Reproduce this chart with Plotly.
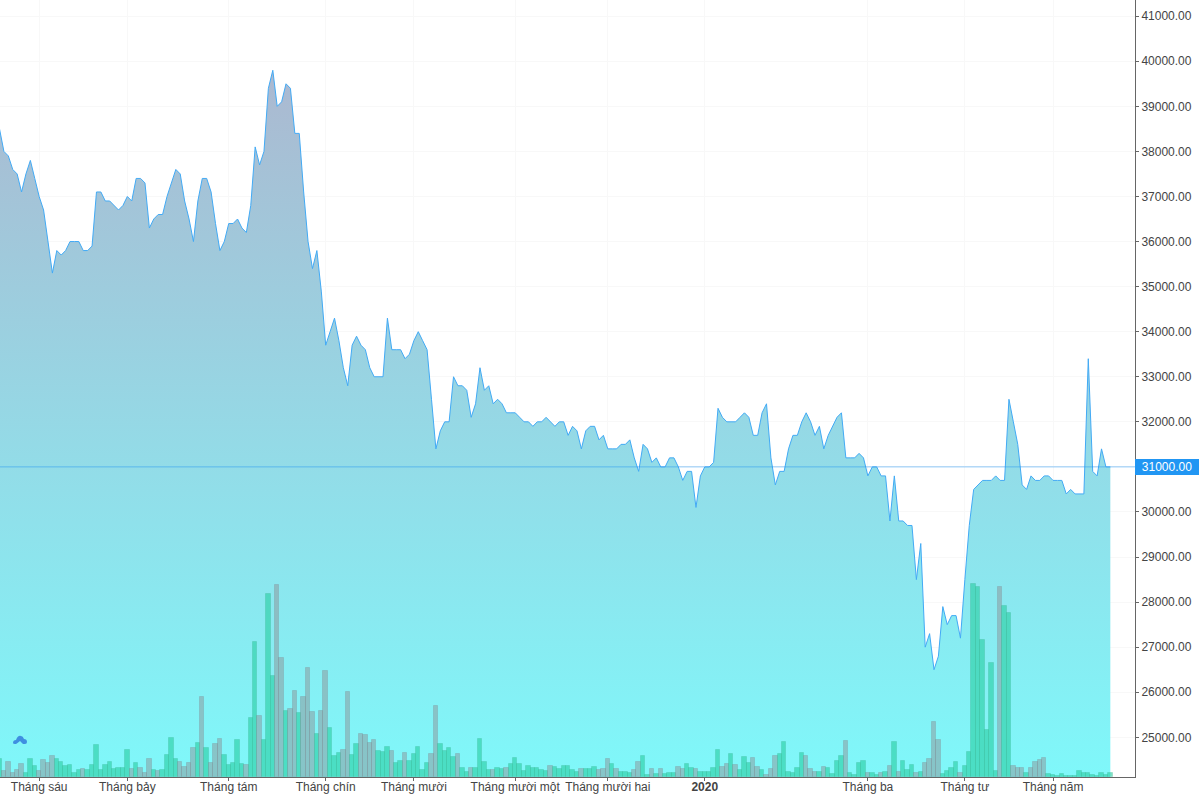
# Biểu đồ giá + khối lượng (area + histogram), tái tạo bằng Plotly
import plotly.graph_objects as go

# giá đóng cửa theo phiên
close = [
    38500, 38000, 37900, 37600, 37500, 37100, 37500, 37800, 37400, 37000,
    36700, 36000, 35300, 35800, 35700, 35800, 36000, 36000, 36000, 35800,
    35800, 35900, 37100, 37100, 36900, 36900, 36800, 36700, 36800, 37000,
    36900, 37400, 37400, 37300, 36300, 36500, 36600, 36600, 37000, 37300,
    37600, 37500, 36900, 36500, 36000, 36900, 37400, 37400, 37100, 36400,
    35800, 36000, 36400, 36400, 36500, 36300, 36200, 36800, 38100, 37700,
    38000, 39400, 39800, 39000, 39100, 39500, 39400, 38400, 38400, 37100,
    36000, 35400, 35800, 34900, 33700, 34000, 34300, 33800, 33200, 32800,
    33700, 33900, 33700, 33600, 33200, 33000, 33000, 33000, 34300, 33600,
    33600, 33600, 33400, 33500, 33800, 34000, 33800, 33600, 32500, 31400,
    31800, 32000, 32000, 33000, 32800, 32800, 32700, 32100, 32400, 33200,
    32700, 32800, 32400, 32500, 32400, 32200, 32200, 32200, 32100, 32000,
    32000, 31900, 32000, 32000, 32100, 32000, 31900, 32000, 32000, 31700,
    31900, 31800, 31400, 31800, 31900, 31900, 31600, 31700, 31400, 31400,
    31400, 31500, 31500, 31600, 31200, 30900, 31500, 31400, 31100, 31200,
    31000, 31000, 31200, 31200, 31000, 30700, 30900, 30900, 30100, 30800,
    31000, 31000, 31100, 32300, 32100, 32000, 32000, 32000, 32100, 32200,
    32100, 31700, 31700, 32200, 32400, 31200, 30600, 30900, 30900, 31400,
    31700, 31700, 32000, 32200, 32000, 31700, 31900, 31400, 31700, 31900,
    32100, 32200, 31200, 31200, 31200, 31300, 31200, 30800, 31000, 31000,
    30800, 30800, 29800, 30800, 29800, 29800, 29700, 29700, 28500, 29300,
    27000, 27300, 26500, 26800, 27900, 27500, 27700, 27700, 27200, 28500,
    29700, 30500, 30600, 30700, 30700, 30700, 30800, 30700, 30700, 32500,
    32000, 31500, 30600, 30500, 30800, 30700, 30700, 30800, 30800, 30700,
    30700, 30700, 30400, 30500, 30400, 30400, 30400, 33400, 30900, 30800,
    31400, 31000, 31000,
]

# khối lượng (đơn vị tương đối)
volume = [
    18, 6, 15, 4, 7, 13, 4, 18, 11, 6,
    17, 14, 21, 18, 15, 11, 12, 4, 7, 8,
    7, 12, 32, 7, 12, 15, 8, 9, 9, 27,
    8, 14, 9, 4, 18, 7, 6, 7, 22, 39,
    18, 15, 10, 14, 29, 34, 80, 29, 14, 33,
    38, 22, 12, 14, 37, 13, 12, 59, 135, 61,
    37, 183, 101, 192, 119, 66, 68, 86, 64, 80,
    109, 65, 43, 66, 106, 49, 21, 24, 27, 85,
    22, 33, 43, 42, 34, 37, 26, 25, 30, 26,
    14, 16, 24, 16, 23, 30, 7, 14, 23, 71,
    33, 26, 29, 20, 23, 9, 5, 9, 9, 38,
    15, 7, 7, 9, 8, 9, 13, 19, 13, 6,
    11, 9, 9, 7, 6, 11, 10, 8, 11, 11,
    7, 5, 8, 8, 8, 10, 7, 8, 18, 13,
    8, 5, 5, 4, 7, 15, 21, 2, 8, 3,
    8, 3, 4, 4, 10, 8, 13, 9, 8, 5,
    5, 5, 9, 27, 10, 13, 23, 12, 7, 20,
    14, 19, 10, 7, 2, 8, 21, 23, 35, 5,
    4, 9, 24, 21, 8, 5, 5, 10, 9, 3,
    16, 21, 36, 4, 2, 14, 16, 4, 4, 2,
    4, 5, 11, 35, 5, 16, 7, 12, 4, 5,
    14, 18, 55, 37, 3, 6, 9, 15, 4, 11,
    25, 193, 190, 137, 47, 114, 6, 190, 171, 164,
    11, 9, 9, 4, 9, 15, 17, 19, 3, 2,
    1, 3, 1, 1, 1, 6, 4, 4, 2, 1,
    4, 2, 4,
]

# 1 = phiên xanh, 0 = phiên xám
vol_up = [
    1, 0, 0, 0, 0, 0, 1, 1, 1, 0,
    0, 0, 0, 1, 1, 1, 1, 1, 1, 0,
    1, 1, 1, 1, 1, 1, 1, 1, 1, 1,
    0, 1, 0, 0, 0, 1, 0, 1, 1, 1,
    1, 0, 0, 0, 0, 1, 0, 1, 0, 0,
    0, 1, 1, 1, 1, 1, 0, 1, 1, 0,
    1, 1, 1, 0, 0, 1, 0, 0, 1,
    0, 0, 0, 1, 0, 0, 1, 1, 1, 0, 0,
    1, 1, 0, 0, 0, 0, 1, 1, 1, 0,
    1, 1, 0, 1, 1, 1, 1, 1, 0, 0,
    1, 1, 1, 1, 0, 1, 1, 0, 1, 1,
    1, 1, 0, 1, 1, 0, 1, 1, 1, 1,
    1, 1, 1, 1, 1, 0, 1,
    1, 1, 1, 1, 1, 0, 1, 1, 1, 0,
    0, 0, 1, 0, 1, 1, 1, 0, 0, 1,
    1, 0, 1, 0, 1, 1, 1, 0, 0, 1,
    1, 0, 1, 1, 1, 1, 1, 0, 0, 1,
    0, 1, 1, 1, 0, 0, 1, 0, 0, 0,
    1, 1, 1, 1, 1, 1, 0, 0, 0, 1,
    0, 1, 1, 1, 1, 0, 1, 1, 1, 1,
    0, 1, 1, 0, 1, 0, 1, 0, 1, 1,
    1, 0, 1, 0, 0, 0, 0, 1, 1, 1,
    1, 0, 1, 1, 1, 1, 1, 1, 1, 1,
    0, 1, 1, 0, 0, 0, 1, 0, 0, 0,
    0, 1, 1, 1, 1, 1, 1, 1, 1, 1,
    1, 1, 1, 1, 1, 1,
]

tick_idx = [9, 29, 52, 74, 94, 117, 138, 160, 197, 219, 239]
tick_labels = ["Tháng sáu", "Tháng bảy", "Tháng tám", "Tháng chín", "Tháng mười",
               "Tháng mười một", "Tháng mười hai", "<b>2020</b>", "Tháng ba",
               "Tháng tư", "Tháng năm"]

WIDTH, HEIGHT = 1200, 801
PLOT_R, PLOT_B = 1135.5, 777
FONT = "Liberation Sans, Arial, sans-serif"
TEXT = "#444"
AXIS = "#666"
GRID = "#f8f8f8"
BLUE = "#2196f3"

# trục giá: 41000 ở y=16.2, 25000 ở y=737.3
px_per_unit = (737.3 - 16.2) / 16000
y_top = 41000 + 16.2 / px_per_unit
y_bot = 41000 - (PLOT_B - 16.2) / px_per_unit

# trục thời gian: phiên i nằm ở x = -0.5 + 4.41 * i
step = 4.41
x_lo = 0.5 / step
x_hi = (PLOT_R + 0.5) / step
idx = list(range(len(close)))

fig = go.Figure()
fig.add_trace(go.Scatter(
    x=idx, y=close, mode="lines", fill="tozeroy",
    line=dict(color="#42aaf5", width=1),
    fillgradient=dict(
        type="vertical", start=y_bot, stop=y_top,
        colorscale=[[0, "rgb(127,248,250)"], [1, "rgb(176,178,204)"]],
    ),
    hoverinfo="skip", showlegend=False,
))
fig.add_trace(go.Bar(
    x=idx, y=volume, yaxis="y2", width=1,
    marker=dict(
        color=["rgba(40,205,160,0.6)" if u else "rgba(145,135,140,0.45)" for u in vol_up],
        line=dict(color=["rgba(50,175,135,0.25)" if u else "rgba(125,125,130,0.25)" for u in vol_up],
                  width=1),
    ),
    hoverinfo="skip", showlegend=False,
))

# đường giá cuối + nhãn
fig.add_shape(type="line", xref="paper", x0=0, x1=1, y0=close[-1], y1=close[-1], yref="y",
              line=dict(color="rgba(33,150,243,0.5)", width=1), layer="above")
fig.add_annotation(
    xref="paper", x=1, yref="y", y=close[-1], xanchor="left", xshift=0, showarrow=False,
    text=f"{close[-1]:.2f}", font=dict(family=FONT, size=12, color="white"),
    bgcolor=BLUE, bordercolor=BLUE, borderwidth=0, borderpad=1, width=62, align="center",
)

# logo góc dưới trái
fig.add_shape(
    type="path", xref="x", yref="y", xsizemode="pixel", ysizemode="pixel",
    xanchor=x_lo, yanchor=y_bot,
    path="M13,34 Q13,37 16,37 Q18,42 21,41 Q23,41 24,38 Q27,38 27,35 Q27,33 25,33 "
         "L23,33 L20,36 L17.5,34 L16,33 L15,33 Q13,33 13,34 Z",
    fillcolor="#3f8fe0", line=dict(width=0), layer="above",
)

fig.update_layout(
    width=WIDTH, height=HEIGHT,
    margin=dict(l=0, r=WIDTH - PLOT_R, t=0, b=HEIGHT - PLOT_B),
    plot_bgcolor="white", paper_bgcolor="white",
    font=dict(family=FONT, size=12, color=TEXT),
    bargap=0, barmode="overlay",
    xaxis=dict(
        range=[x_lo, x_hi], tickmode="array", tickvals=tick_idx, ticktext=tick_labels,
        showgrid=True, gridcolor=GRID, gridwidth=1, zeroline=False,
        showline=True, linecolor=AXIS, linewidth=1,
        ticks="outside", ticklen=3, tickcolor=AXIS, tickangle=0,
        ticklabelstandoff=-4,
    ),
    yaxis=dict(
        side="right", range=[y_bot, y_top], tick0=25000, dtick=1000, tickformat=".2f",
        showgrid=True, gridcolor=GRID, gridwidth=1, zeroline=False,
        showline=True, linecolor=AXIS, linewidth=1,
        ticks="outside", ticklen=3, tickcolor=AXIS,
    ),
    yaxis2=dict(
        overlaying="y", range=[0, PLOT_B], visible=False, fixedrange=True,
    ),
)

fig.write_html(
    "out.html",
    config=dict(displayModeBar=False),
    post_script="document.body.style.margin='0';document.body.style.overflow='hidden';",
)
